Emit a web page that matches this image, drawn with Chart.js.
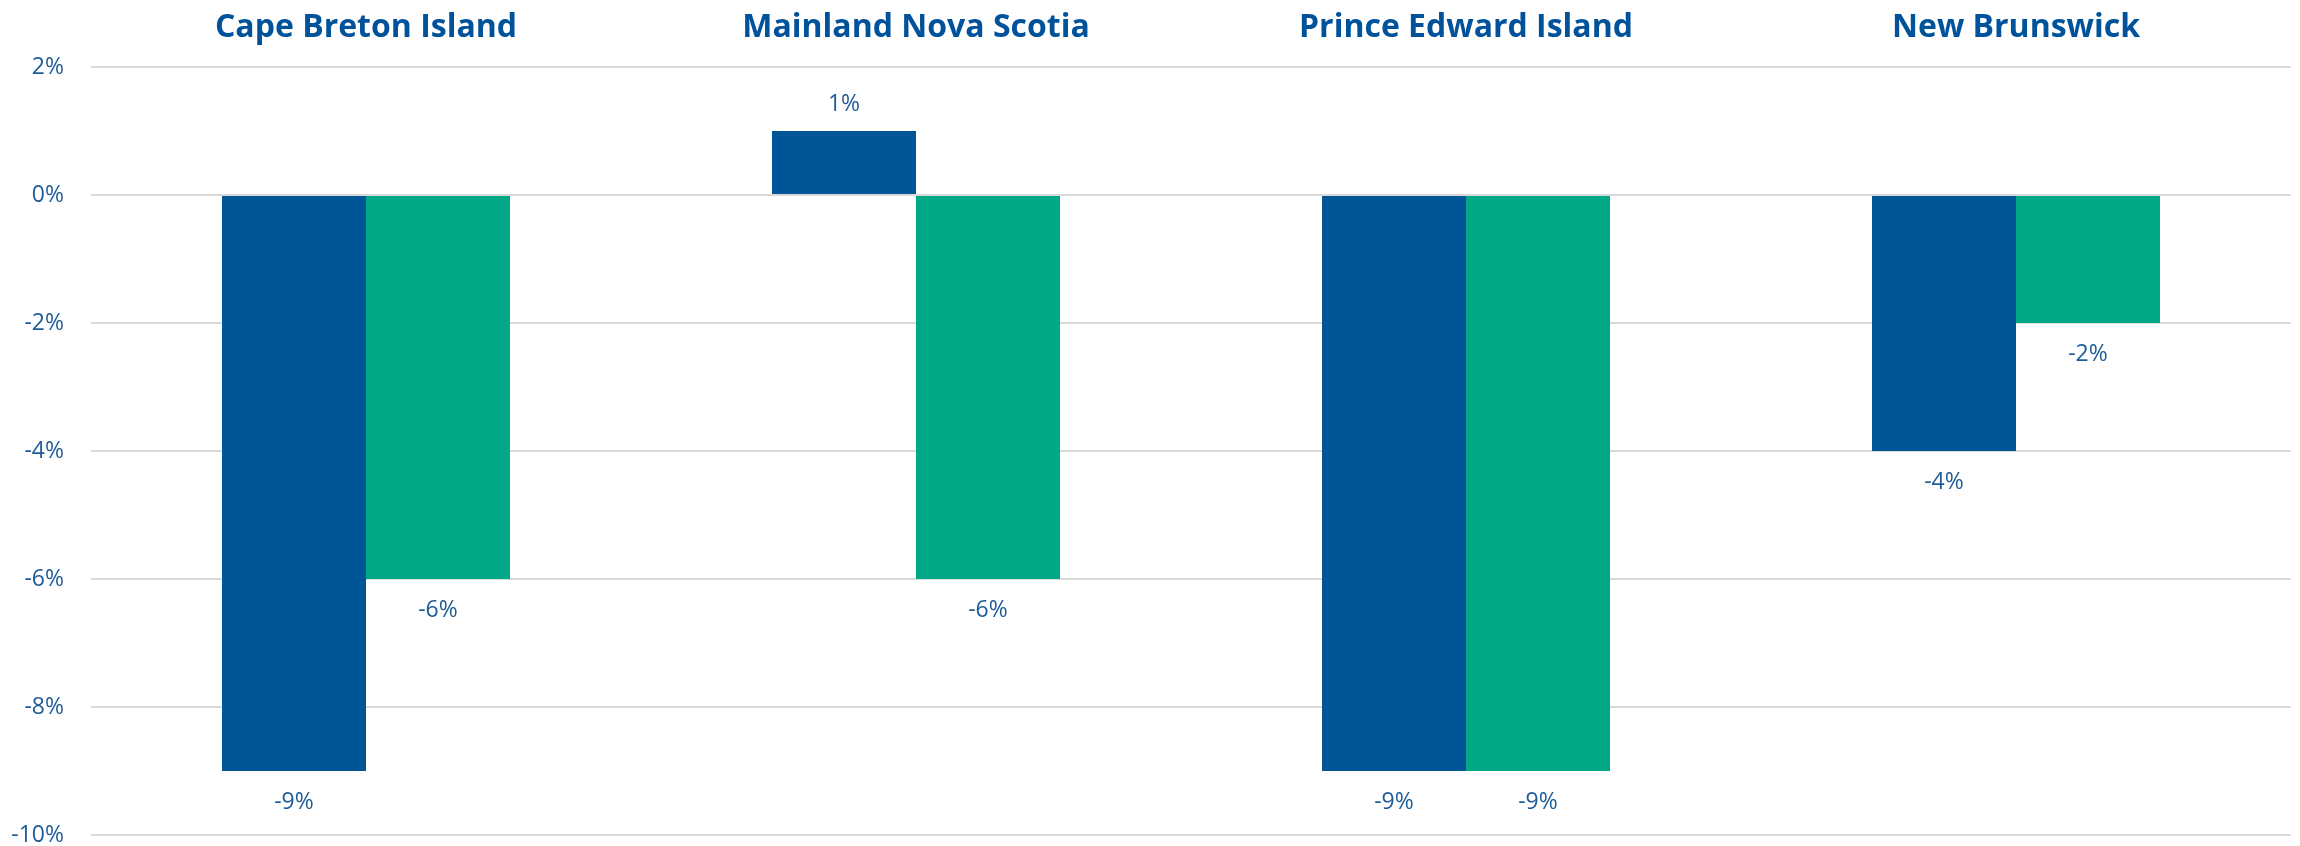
<!DOCTYPE html>
<html>
<head>
<meta charset="utf-8">
<script src="https://cdn.jsdelivr.net/npm/chart.js@4.4.1/dist/chart.umd.min.js"></script>
<style>
    html, body { margin: 0; padding: 0; background: #ffffff; }
    #wrap { width: 2300px; height: 846px; }
</style>
</head>
<body>
<div id="wrap"><canvas id="chart" width="2300" height="846"></canvas></div>
<script>
// Данные
const categories = ['Cape Breton Island', 'Mainland Nova Scotia', 'Prince Edward Island', 'New Brunswick'];
const seriesBlue = [-9, 1, -9, -4];
const seriesGreen = [-6, -6, -9, -2];
const yTicks = [2, 0, -2, -4, -6, -8, -10];

const BLUE = '#005596';
const GREEN = '#00a886';
const TEXT = '#1d5c98';

// Подписи над/под столбцами и заголовки категорий
const labelsPlugin = {
    id: 'labelsPlugin',
    afterDatasetsDraw(chart) {
        const ctx = chart.ctx;
        ctx.save();
        ctx.fillStyle = TEXT;
        ctx.textAlign = 'center';
        ctx.textBaseline = 'middle';
        ctx.font = '23px "Open Sans"';
        chart.data.datasets.forEach((ds, i) => {
            chart.getDatasetMeta(i).data.forEach((bar, j) => {
                const v = ds.data[j];
                const y = v >= 0 ? bar.y - 27 : bar.y + 31;
                ctx.fillText(v + '%', bar.x, y);
            });
        });

        // Заголовки категорий
        const xScale = chart.scales.x;
        ctx.fillStyle = '#00529b';
        ctx.font = 'bold 32px "Open Sans"';
        ctx.textBaseline = 'alphabetic';
        categories.forEach((c, i) => {
            ctx.fillText(c, xScale.getPixelForValue(i), 37);
        });
        ctx.restore();
    }
};

new Chart(document.getElementById('chart').getContext('2d'), {
    type: 'bar',
    data: {
        labels: categories,
        datasets: [{
            data: seriesBlue,
            backgroundColor: BLUE,
            categoryPercentage: 0.5236,
            barPercentage: 1.0
        }, {
            data: seriesGreen,
            backgroundColor: GREEN,
            categoryPercentage: 0.5236,
            barPercentage: 1.0
        }]
    },
    options: {
        responsive: false,
        animation: false,
        layout: {
            padding: { top: 67, right: 9, bottom: 11, left: 0 }
        },
        plugins: {
            legend: { display: false },
            tooltip: { enabled: false }
        },
        scales: {
            x: {
                display: false,
                grid: { display: false }
            },
            y: {
                min: -10,
                max: 2,
                afterBuildTicks(scale) {
                    scale.ticks = yTicks.map(v => ({ value: v }));
                },
                afterFit(scale) {
                    scale.width = 91;
                    scale.paddingTop = 0;
                    scale.paddingBottom = 0;
                },
                border: { display: false },
                grid: {
                    color: '#d9d9d9',
                    lineWidth: 2,
                    drawTicks: false
                },
                ticks: {
                    color: TEXT,
                    padding: 27,
                    font: { family: 'Open Sans', size: 23, lineHeight: 0.5 },
                    callback: v => v + '%'
                }
            }
        }
    },
    plugins: [labelsPlugin]
});
</script>
</body>
</html>
